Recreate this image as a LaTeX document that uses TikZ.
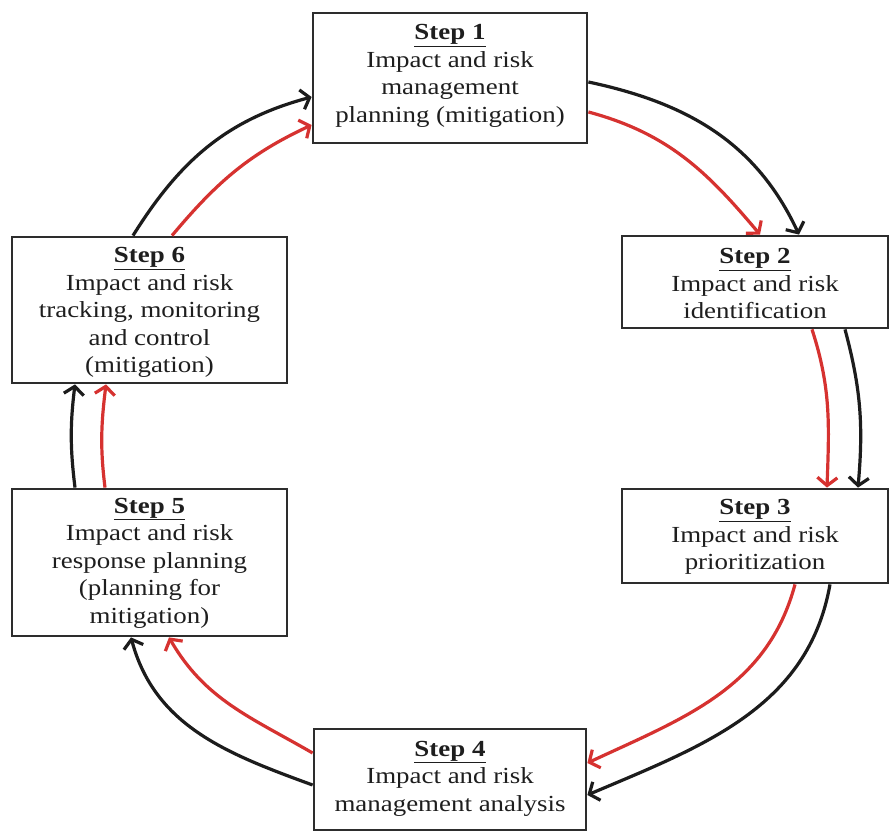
\documentclass[tikz,border=0pt]{standalone}
\usepackage{fontspec}
\setmainfont{Liberation Serif}[FakeStretch=1.17]
\usetikzlibrary{arrows.meta}
\definecolor{redarr}{RGB}{214,50,48}
\definecolor{blkarr}{RGB}{28,28,28}
\definecolor{boxline}{RGB}{45,45,45}
\definecolor{txt}{RGB}{30,30,30}
\begin{document}
\begin{tikzpicture}[x=1pt,y=1pt,
  stepbox/.style={draw=boxline, line width=2.8pt, inner sep=0pt, fill=white},
  steptext/.style={align=center, text=txt, inner sep=0pt, font=\fontsize{23}{27.5}\selectfont},
  blk/.style={draw=blkarr, line width=3.2pt, -{Straight Barb[length=8pt,width=20pt]}},
  rd/.style={draw=redarr, line width=3.2pt, -{Straight Barb[length=8pt,width=20pt]}}
]
\useasboundingbox (0,0) rectangle (889,832);
\fill[white] (0,0) rectangle (889,832);

% boxes
\node[stepbox, minimum width=274pt, minimum height=130pt] (s1) at (450,754) {};
\node[stepbox, minimum width=266pt, minimum height=92pt]  (s2) at (755,550) {};
\node[stepbox, minimum width=266pt, minimum height=94pt]  (s3) at (755,296) {};
\node[stepbox, minimum width=272pt, minimum height=101pt] (s4) at (450,52.5) {};
\node[stepbox, minimum width=275pt, minimum height=147pt] (s5) at (149.5,269.5) {};
\node[stepbox, minimum width=275pt, minimum height=146pt] (s6) at (149.5,522) {};

% texts
\node[steptext] (t1) at (450,756) {\textbf{\underline{Step 1}}\\Impact and risk\\management\\planning (mitigation)};
\node[steptext] (t2) at (755,548) {\textbf{\underline{Step 2}}\\Impact and risk\\identification};
\node[steptext] (t3) at (755,295) {\textbf{\underline{Step 3}}\\Impact and risk\\prioritization};
\node[steptext] (t4) at (450,53.5) {\textbf{\underline{Step 4}}\\Impact and risk\\management analysis};
\node[steptext] (t5) at (149.5,269) {\textbf{\underline{Step 5}}\\Impact and risk\\response planning\\(planning for\\mitigation)};
\node[steptext] (t6) at (149.5,519.5) {\textbf{\underline{Step 6}}\\Impact and risk\\tracking, monitoring\\and control\\(mitigation)};

% 1 -> 2
\draw[blk] ([yshift=-4pt]s1.east) to[out=-12,in=115] ([xshift=44pt]s2.north);
\draw[rd]  ([yshift=-34pt]s1.east) to[out=-15,in=130] ([xshift=5pt]s2.north);
% 2 -> 3
\draw[blk] ([xshift=90pt]s2.south) to[out=-75,in=85] ([xshift=103pt]s3.north);
\draw[rd]  ([xshift=57pt]s2.south) to[out=-72,in=88] ([xshift=72pt]s3.north);
% 3 -> 4
\draw[blk] ([xshift=75pt]s3.south) to[out=-100,in=23] ([yshift=-15.5pt]s4.east);
\draw[rd]  ([xshift=40pt]s3.south) to[out=-105,in=25] ([yshift=16.5pt]s4.east);
% 4 -> 5
\draw[blk] ([yshift=-5.5pt]s4.west) to[out=160,in=-75] ([xshift=-18.5pt]s5.south);
\draw[rd]  ([yshift=26.5pt]s4.west) to[out=150,in=-60] ([xshift=19.5pt]s5.south);
% 5 -> 6
\draw[blk] ([xshift=-74.5pt]s5.north) to[out=97,in=-97] ([xshift=-74.5pt]s6.south);
\draw[rd]  ([xshift=-44.5pt]s5.north) to[out=97,in=-97] ([xshift=-43.5pt]s6.south);
% 6 -> 1
\draw[blk] ([xshift=-16.5pt]s6.north) to[out=58,in=195] ([yshift=-19pt]s1.west);
\draw[rd]  ([xshift=22.5pt]s6.north) to[out=50,in=205] ([yshift=-47pt]s1.west);
\end{tikzpicture}
\end{document}
